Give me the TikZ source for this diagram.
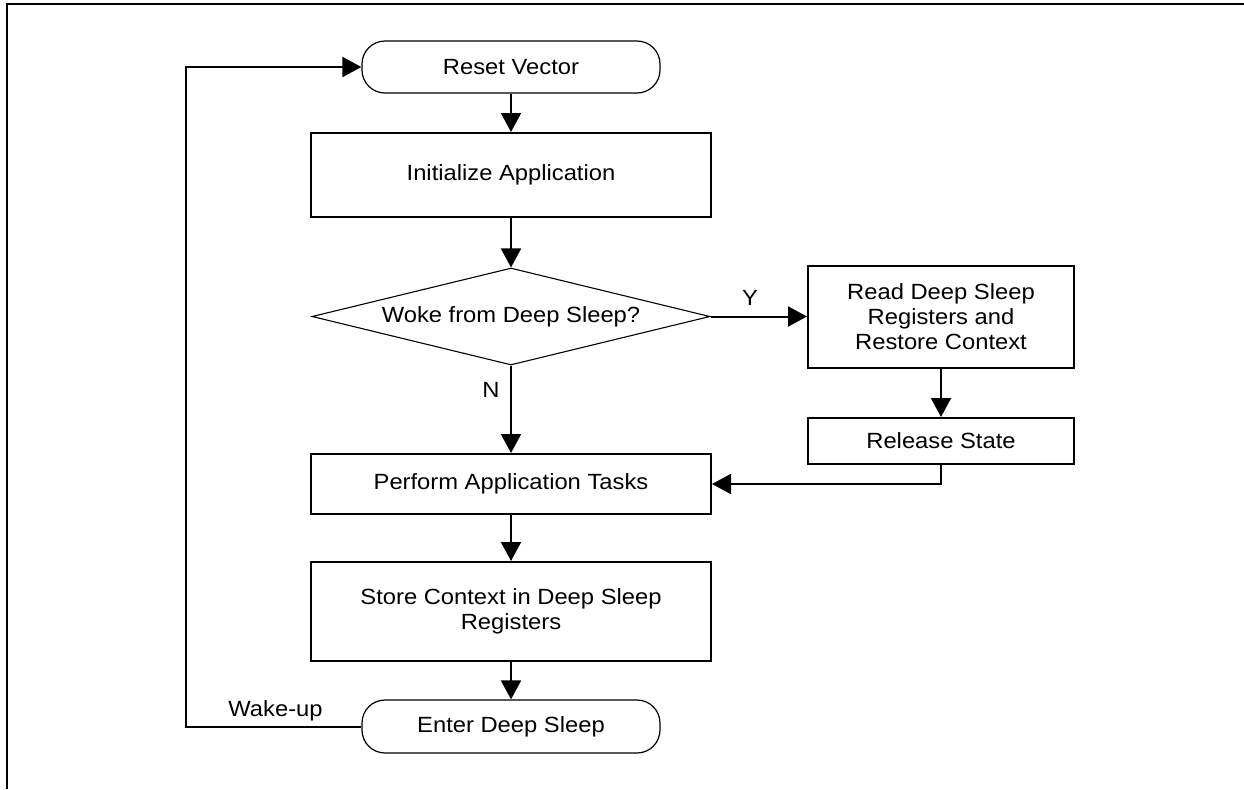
\documentclass[tikz,border=0pt]{standalone}
\usepackage{fontspec}
\setmainfont[FakeStretch=1.08]{Liberation Sans}
\usetikzlibrary{arrows.meta,shapes.geometric}

\tikzset{
  txt/.style={font=\fontsize{11}{12.5}\selectfont, align=center, inner sep=0pt},
  procbox/.style={txt, draw, line width=1pt, rectangle},
  termbox/.style={txt, draw, line width=0.6pt, rectangle, rounded corners=11.5pt},
  decbox/.style={txt, draw, line width=0.55pt, diamond, aspect=4.1},
  flow/.style={line width=1pt, -{Triangle[width=10pt,length=9.5pt]}},
  lbl/.style={font=\fontsize{11}{12.5}\selectfont, inner sep=0pt, anchor=base},
}

\begin{document}
\begin{tikzpicture}[x=0.5pt,y=-0.5pt]
  \useasboundingbox (0,0) rectangle (1244,789);

  % frame edges
  \draw[line width=1pt] (6,4) -- (1244,4);
  \draw[line width=1pt] (6.8,4) -- (6.8,789);

  % flow elements
  \node[termbox, minimum width=149pt, minimum height=26pt] (reset) at (511,67) {Reset Vector};
  \node[procbox, minimum width=200pt, minimum height=42pt] (init) at (511,175) {Initialize Application};
  \node[decbox, minimum width=199pt, minimum height=48.5pt] (dec) at (511,316.5) {Woke from Deep Sleep?};
  \node[procbox, minimum width=133pt, minimum height=51pt] (read) at (941,316.5) {Read Deep Sleep\\Registers and\\Restore Context};
  \node[procbox, minimum width=133pt, minimum height=23pt] (release) at (941,441) {Release State};
  \node[procbox, minimum width=200pt, minimum height=30pt] (perform) at (511,484) {Perform Application Tasks};
  \node[procbox, minimum width=200pt, minimum height=49.5pt] (store) at (511,611.5) {Store Context in Deep Sleep\\Registers};
  \node[termbox, minimum width=149pt, minimum height=26.5pt] (sleep) at (511,726.5) {Enter Deep Sleep};

  % connectors
  \draw[flow] (reset.south) -- (init.north);
  \draw[flow] (init.south) -- (dec.north);
  \draw[flow] (dec.east) -- (read.west);
  \draw[flow] (dec.south) -- (perform.north);
  \draw[flow] (read.south) -- (release.north);
  \draw[flow] (release.south) |- (perform.east);
  \draw[flow] (perform.south) -- (store.north);
  \draw[flow] (store.south) -- (sleep.north);
  \coordinate (loop) at (185.5,726.5);
  \draw[flow] (sleep.west) -- (loop) |- (reset.west);

  % branch labels
  \node[lbl] (ylbl) at (750,305) {Y};
  \node[lbl] (nlbl) at (491,397) {N};
  \node[lbl] (wlbl) at (275.5,716) {Wake-up};
\end{tikzpicture}
\end{document}
